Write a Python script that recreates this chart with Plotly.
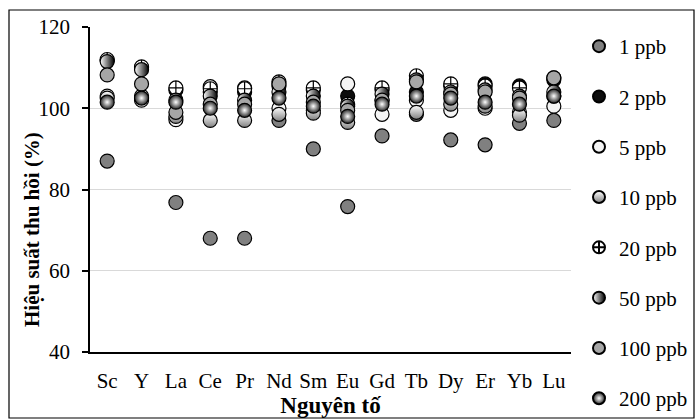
import plotly.graph_objects as go

elements = ["Sc", "Y", "La", "Ce", "Pr", "Nd", "Sm", "Eu", "Gd", "Tb", "Dy", "Er", "Yb", "Lu"]
series_names = ["1 ppb", "2 ppb", "5 ppb", "10 ppb", "20 ppb", "50 ppb", "100 ppb", "200 ppb"]

ppb1 = [87.0, 102.5, 76.8, 68.0, 68.0, 97.0, 90.0, 75.8, 93.2, 98.5, 92.2, 91.0, 96.3, 97.0]
ppb2 = [111.8, 110.0, 104.5, 104.0, 104.0, 105.5, 104.5, 103.0, 104.5, 104.0, 105.5, 106.0, 105.5, 107.0]
ppb5 = [103.0, 102.0, 97.2, 105.3, 105.0, 100.0, 99.5, 106.0, 98.5, 102.0, 99.5, 100.0, 99.0, 100.5]
ppb10 = [102.5, 103.0, 98.0, 97.0, 97.0, 98.5, 98.8, 96.5, 102.0, 99.0, 101.0, 100.5, 98.3, 103.0]
ppb20 = [112.0, 110.2, 105.0, 104.8, 104.8, 106.5, 105.0, 101.0, 105.0, 108.0, 106.0, 105.5, 105.0, 107.5]
ppb50 = [111.5, 109.5, 102.0, 103.0, 102.0, 104.0, 103.0, 100.5, 103.5, 107.0, 104.0, 104.5, 103.0, 104.0]
ppb100 = [108.2, 106.0, 99.0, 101.0, 101.0, 106.0, 101.5, 99.5, 102.0, 106.5, 103.5, 104.0, 102.5, 107.5]
ppb200 = [101.5, 102.5, 101.5, 100.0, 99.5, 102.5, 100.5, 98.0, 101.0, 103.0, 102.5, 101.5, 101.0, 103.0]

values = [ppb1, ppb2, ppb5, ppb10, ppb20, ppb50, ppb100, ppb200]

styles = [
    dict(color="#808080", symbol="circle"),
    dict(color="#0d0d0d", symbol="circle"),
    dict(color="#f4f4f4", symbol="circle"),
    dict(color="#ffffff", symbol="circle", gradient=dict(type="vertical", color="#808080")),
    dict(color="#ffffff", symbol="circle-cross"),
    dict(color="#ffffff", symbol="circle", gradient=dict(type="horizontal", color="#000000")),
    dict(color="#a6a6a6", symbol="circle"),
    dict(color="#262626", symbol="circle", gradient=dict(type="radial", color="#ffffff")),
]

fig = go.Figure()
for name, vals, st in zip(series_names, values, styles):
    marker = dict(size=14, color=st["color"], symbol=st["symbol"],
                  line=dict(color="#000000", width=1.2))
    if "gradient" in st:
        marker["gradient"] = st["gradient"]
    fig.add_trace(go.Scatter(x=elements, y=vals, mode="markers", name=name,
                             legendgroup=name, marker=marker))

font_serif = "Liberation Serif, Times New Roman, serif"

fig.update_layout(
    width=695, height=419,
    margin=dict(l=90, r=124, t=27, b=67, autoexpand=False),
    paper_bgcolor="white", plot_bgcolor="white",
    font=dict(family=font_serif, size=21, color="#000000"),
    showlegend=True,
    legend=dict(xref="container", yref="container", x=579 / 695, y=1 - 26 / 419,
                xanchor="left", yanchor="top",
                font=dict(family=font_serif, size=21, color="#000000"),
                tracegroupgap=20, itemsizing="constant", itemwidth=30,
                maxheight=410,
                bgcolor="rgba(0,0,0,0)"),
    xaxis=dict(
        showline=True, linecolor="#000000", linewidth=1.5, automargin=False,
        showgrid=False, ticks="outside", ticklen=9, tickcolor="rgba(0,0,0,0)",
        tickfont=dict(family=font_serif, size=21),
        title=dict(text="<b>Nguyên tố</b>", font=dict(family=font_serif, size=23), standoff=0),
        range=[-0.5, 13.5],
    ),
    yaxis=dict(
        range=[40, 120], tickvals=[40, 60, 80, 100, 120], automargin=False,
        showline=True, linecolor="#000000", linewidth=1.5,
        showgrid=True, gridcolor="#d9d9d9", gridwidth=1,
        ticks="outside", ticklen=6, tickcolor="#000000", tickwidth=1.5,
        ticklabelstandoff=8,
        tickfont=dict(family=font_serif, size=21),
        zeroline=False,
    ),
    annotations=[dict(text="<b>Hiệu suất thu hồi (%)</b>", textangle=-90,
                      xref="paper", yref="paper", x=(32 - 90) / 481, y=(352 - 230) / 325,
                      xanchor="center", yanchor="middle", showarrow=False,
                      font=dict(family=font_serif, size=21, color="#000000"))],
    shapes=[dict(type="rect", xref="paper", yref="paper",
                 x0=(9 - 90) / 481, x1=(694 - 90) / 481,
                 y0=(352 - 418) / 325, y1=(352 - 10) / 325,
                 line=dict(color="#000000", width=1.2), fillcolor="rgba(0,0,0,0)", layer="below")],
)

fig.write_html("out.html")
